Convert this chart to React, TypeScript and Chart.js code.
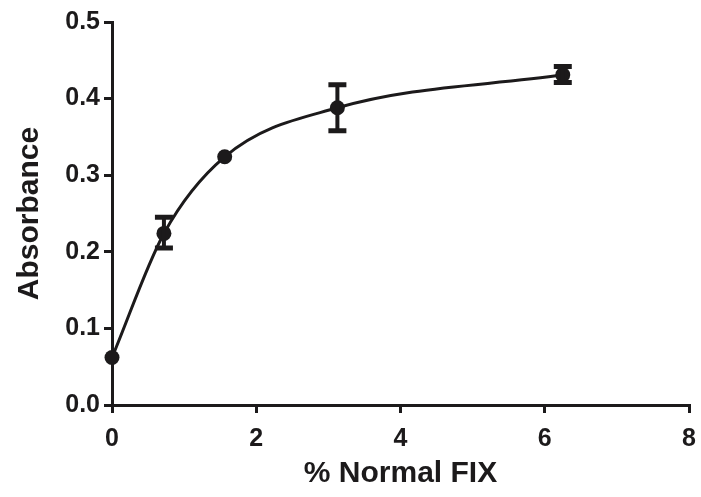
import React, { useEffect, useRef } from 'react';
import { Chart, registerables } from 'chart.js';

Chart.register(...registerables);

// % Normal FIX concentrations (x) and absorbance readings (y)
const concentrations = [0, 0.72, 1.5625, 3.125, 6.25];
const absorbance = [0.062, 0.224, 0.324, 0.388, 0.431];
const errorLow = [0.062, 0.205, 0.324, 0.358, 0.421];
const errorHigh = [0.062, 0.245, 0.324, 0.418, 0.442];
const xTickValues = [0, 2, 4, 6, 8];
const yTickValues = [0, 0.1, 0.2, 0.3, 0.4, 0.5];

const INK = '#1c1a1b';
const FONT = '"Liberation Sans", Arial, Helvetica, sans-serif';

const errorBarPlugin = {
  id: 'errorBars',
  afterDatasetsDraw(chart: any) {
    const { ctx, scales } = chart;
    const xs = scales.x;
    const ys = scales.y;
    ctx.save();
    ctx.strokeStyle = INK;
    ctx.lineCap = 'butt';
    concentrations.forEach((c, i) => {
      if (errorHigh[i] - errorLow[i] < 0.004) return;
      const px = xs.getPixelForValue(c);
      const top = ys.getPixelForValue(errorHigh[i]);
      const bot = ys.getPixelForValue(errorLow[i]);
      ctx.lineWidth = 4;
      ctx.beginPath();
      ctx.moveTo(px, top);
      ctx.lineTo(px, bot);
      ctx.stroke();
      ctx.lineWidth = 5;
      ctx.beginPath();
      ctx.moveTo(px - 9, top);
      ctx.lineTo(px + 9, top);
      ctx.moveTo(px - 9, bot);
      ctx.lineTo(px + 9, bot);
      ctx.stroke();
    });
    ctx.restore();
  },
};

export default function App() {
  const ref = useRef<HTMLCanvasElement | null>(null);

  useEffect(() => {
    if (!ref.current) return;
    const points = concentrations.map((x, i) => ({ x, y: absorbance[i] }));
    const chart = new Chart(ref.current, {
      type: 'scatter',
      data: {
        datasets: [
          {
            data: points,
            showLine: true,
            cubicInterpolationMode: 'monotone',
            borderColor: INK,
            borderWidth: 3,
            backgroundColor: INK,
            pointBackgroundColor: INK,
            pointBorderColor: INK,
            pointRadius: 7.5,
            pointBorderWidth: 0,
            clip: false,
          } as any,
        ],
      },
      options: {
        animation: false,
        responsive: true,
        maintainAspectRatio: false,
        layout: { padding: { left: 0, top: 22, right: 12, bottom: 0 } },
        plugins: {
          legend: { display: false },
          tooltip: { enabled: false },
        },
        scales: {
          x: {
            type: 'linear',
            min: 0,
            max: 8,
            afterFit: (s: any) => {
              s.height = 92;
              s.paddingLeft = 0;
              s.paddingRight = 0;
            },
            afterBuildTicks: (s: any) => {
              s.ticks = xTickValues.map((v) => ({ value: v }));
            },
            ticks: {
              color: INK,
              font: { family: FONT, size: 25, weight: 'bold' },
              padding: 11,
              maxRotation: 0,
              callback: (v: any) => String(v),
            },
            grid: {
              drawOnChartArea: false,
              drawTicks: true,
              tickLength: 8,
              lineWidth: 3,
              color: INK,
            },
            border: { display: true, width: 3, color: INK },
            title: {
              display: true,
              text: '% Normal FIX',
              color: INK,
              font: { family: FONT, size: 30, weight: 'bold' },
              padding: { top: 0, bottom: 5 },
            },
          },
          y: {
            type: 'linear',
            min: 0,
            max: 0.5,
            afterFit: (s: any) => {
              s.width = 112;
              s.paddingTop = 0;
              s.paddingBottom = 0;
            },
            afterBuildTicks: (s: any) => {
              s.ticks = yTickValues.map((v) => ({ value: v }));
            },
            ticks: {
              color: INK,
              font: { family: FONT, size: 25, weight: 'bold' },
              padding: 4,
              callback: (v: any) => Number(v).toFixed(1),
            },
            grid: {
              drawOnChartArea: false,
              drawTicks: true,
              tickLength: 8,
              lineWidth: 3,
              color: INK,
            },
            border: { display: true, width: 3, color: INK },
            title: {
              display: true,
              text: 'Absorbance',
              color: INK,
              font: { family: FONT, size: 30, weight: 'bold' },
              padding: { top: 12, bottom: 0 },
            },
          },
        },
      },
      plugins: [errorBarPlugin],
    });
    return () => chart.destroy();
  }, []);

  return (
    <div style={{ position: 'absolute', left: 0, top: 0, width: 701, height: 497, background: '#fff' }}>
      <canvas ref={ref} />
    </div>
  );
}
